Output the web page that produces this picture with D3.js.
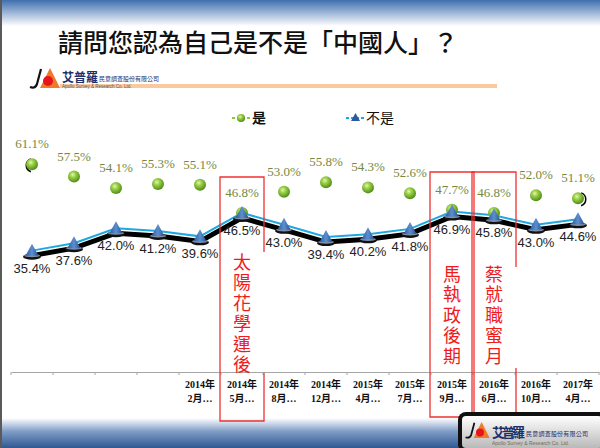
<!DOCTYPE html>
<html>
<head>
<meta charset="utf-8">
<script src="https://cdnjs.cloudflare.com/ajax/libs/d3/7.8.5/d3.min.js"></script>
<style>
  body { margin: 0; background: #fff; }
  svg { display: block; }
</style>
</head>
<body>
<svg id="chart" width="600" height="448"></svg>
<script>
// values
var title = '請問您認為自己是不是「中國人」？'
var tickYears  = ['', '', '', '', '2014年', '2014年', '2014年', '2014年', '2015年', '2015年', '2015年', '2016年', '2016年', '2017年']
var tickMonths = ['', '', '', '', '2月…', '5月…', '8月…', '12月…', '4月…', '7月…', '9月…', '6月…', '10月…', '4月…']
var yesValues = [61.1, 57.5, 54.1, 55.3, 55.1, 46.8, 53.0, 55.8, 54.3, 52.6, 47.7, 46.8, 52.0, 51.1]
var noValues  = [35.4, 37.6, 42.0, 41.2, 39.6, 46.5, 43.0, 39.4, 40.2, 41.8, 46.9, 45.8, 43.0, 44.6]
var seriesNames = ['是', '不是']
// event boxes: first/last category index covered, caption
var events = [
  { from: 5,  to: 5,  text: '太陽花學運後' },
  { from: 10, to: 10, text: '馬執政後期' },
  { from: 11, to: 11, text: '蔡就職蜜月' }
]

var svg = d3.select('#chart')
var defs = svg.append('defs')

var topGrad = defs.append('linearGradient').attr('id', 'topBand').attr('x1', 0).attr('y1', 0).attr('x2', 0).attr('y2', 1)
topGrad.append('stop').attr('offset', '0%').attr('stop-color', '#3f6fae')
topGrad.append('stop').attr('offset', '100%').attr('stop-color', '#ffffff')

var botGrad = defs.append('linearGradient').attr('id', 'botBand').attr('x1', 0).attr('y1', 0).attr('x2', 0).attr('y2', 1)
botGrad.append('stop').attr('offset', '0%').attr('stop-color', '#ffffff')
botGrad.append('stop').attr('offset', '45%').attr('stop-color', '#7f9cc6')
botGrad.append('stop').attr('offset', '100%').attr('stop-color', '#2f5892')

var ball = defs.append('radialGradient').attr('id', 'ball').attr('cx', '40%').attr('cy', '35%').attr('r', '65%')
ball.append('stop').attr('offset', '0%').attr('stop-color', '#e4f7b0')
ball.append('stop').attr('offset', '35%').attr('stop-color', '#9fd24a')
ball.append('stop').attr('offset', '100%').attr('stop-color', '#4f8c18')

var tri = defs.append('linearGradient').attr('id', 'tri').attr('x1', 0).attr('y1', 0).attr('x2', 1).attr('y2', 0)
tri.append('stop').attr('offset', '0%').attr('stop-color', '#2d5a9c')
tri.append('stop').attr('offset', '50%').attr('stop-color', '#5b8fd0')
tri.append('stop').attr('offset', '100%').attr('stop-color', '#2a4f8a')

var badge = defs.append('linearGradient').attr('id', 'badge').attr('x1', 0).attr('y1', 0).attr('x2', 0).attr('y2', 1)
badge.append('stop').attr('offset', '0%').attr('stop-color', '#ffffff')
badge.append('stop').attr('offset', '100%').attr('stop-color', '#b9b9b9')

// background bands
svg.append('rect').attr('x', 0).attr('y', 0).attr('width', 600).attr('height', 26).attr('fill', 'url(#topBand)')
svg.append('rect').attr('x', 0).attr('y', 418).attr('width', 600).attr('height', 30).attr('fill', 'url(#botBand)')
svg.append('rect').attr('x', 0).attr('y', 0).attr('width', 2).attr('height', 448).attr('fill', '#5a5a5a')

svg.append('text').attr('x', 258).attr('y', 52).attr('text-anchor', 'middle')
  .attr('font-family', '"Noto Sans CJK TC", sans-serif').attr('font-weight', 500)
  .attr('font-size', 25).attr('fill', '#111')
  .text(title)

// company logo mark
function drawLogo(g, s) {
  g.append('path').attr('d', 'M' + 13 * s + ',' + 1 * s + ' L' + 9 * s + ',' + 16 * s + ' Q' + 7 * s + ',' + 21 * s + ' ' + 2 * s + ',' + 19 * s)
    .attr('fill', 'none').attr('stroke', '#111').attr('stroke-width', 2.2 * s)
  g.append('path').attr('d', 'M' + 22 * s + ',0 L' + 12 * s + ',' + 20 * s + ' L' + 32 * s + ',' + 20 * s + ' Z').attr('fill', '#f07a2a')
  g.append('circle').attr('cx', 20 * s).attr('cy', 13 * s).attr('r', 5 * s).attr('fill', '#e8141c')
}
var logo = svg.append('g').attr('transform', 'translate(28,68)')
drawLogo(logo, 1)
svg.append('rect').attr('x', 60).attr('y', 84).attr('width', 437).attr('height', 4).attr('fill', '#fbc9a0')
svg.append('text').attr('x', 62).attr('y', 82).attr('font-family', '"Noto Sans CJK TC", sans-serif')
  .attr('font-weight', 'bold').attr('font-size', 12).attr('fill', '#1b2f6b').text('艾普羅')
svg.append('text').attr('x', 99).attr('y', 81).attr('font-family', '"Noto Sans CJK TC", sans-serif')
  .attr('font-size', 6).attr('fill', '#1b2f6b').text('民意調查股份有限公司')
svg.append('text').attr('x', 62).attr('y', 88).attr('font-family', 'Liberation Sans, sans-serif')
  .attr('font-size', 4.5).attr('fill', '#555').text('Apollo Survey & Research Co. Ltd.')

// scales
var idx = d3.range(yesValues.length)
var x = d3.scaleBand().domain(idx).range([11, 599])
var y = d3.scaleLinear().domain([0, 100]).range([372, 32])
var cx = function (i) { return x(i) + x.bandwidth() / 2 }

// category axis
var axis = svg.append('g').attr('transform', 'translate(0,' + y(0) + ')')
  .call(d3.axisBottom(x).tickSize(0).tickFormat(''))
axis.select('.domain').attr('stroke', '#a6a6a6')
axis.selectAll('.bound').data(idx.concat([idx.length])).enter().append('line')
  .attr('x1', function (i) { return i < idx.length ? x(i) : x.range()[1] })
  .attr('x2', function (i) { return i < idx.length ? x(i) : x.range()[1] })
  .attr('y1', 0).attr('y2', 3).attr('stroke', '#a6a6a6')
var tickText = svg.append('g').selectAll('text').data(idx).enter().append('text')
  .attr('x', cx).attr('text-anchor', 'middle')
  .attr('font-family', '"Liberation Serif", "Noto Sans CJK TC", serif')
  .attr('font-weight', 'bold').attr('font-size', 10).attr('fill', '#111')
tickText.append('tspan').attr('x', cx).attr('y', 388).text(function (i) { return tickYears[i] })
tickText.append('tspan').attr('x', cx).attr('y', 402).text(function (i) { return tickMonths[i] })

// legend
var legend = svg.append('g')
legend.append('line').attr('x1', 232).attr('x2', 251).attr('y1', 118).attr('y2', 118)
  .attr('stroke', '#8cc63f').attr('stroke-width', 2).attr('stroke-dasharray', '3,2')
legend.append('circle').attr('cx', 241).attr('cy', 118).attr('r', 4).attr('fill', 'url(#ball)')
legend.append('text').attr('x', 252).attr('y', 123).attr('font-family', '"Noto Sans CJK TC", sans-serif')
  .attr('font-weight', 'bold').attr('font-size', 14).attr('fill', '#111').text(seriesNames[0])
legend.append('line').attr('x1', 346).attr('x2', 365).attr('y1', 118).attr('y2', 118)
  .attr('stroke', '#1fa8e0').attr('stroke-width', 2).attr('stroke-dasharray', '3,2')
legend.append('path').attr('d', 'M355.5,113 L360,121 L351,121 Z').attr('fill', '#2d5a9c')
legend.append('text').attr('x', 366).attr('y', 123).attr('font-family', '"Noto Sans CJK TC", sans-serif')
  .attr('font-size', 14).attr('fill', '#111').text(seriesNames[1])

// "不是" line: thick black shadow plus thin blue line
var line = d3.line().x(function (d, i) { return cx(i) }).y(function (d) { return y(d) })
svg.append('path').datum(noValues).attr('d', line).attr('transform', 'translate(0,4)')
  .attr('fill', 'none').attr('stroke', '#000').attr('stroke-width', 5)
svg.append('path').datum(noValues).attr('d', line).attr('transform', 'translate(0,-1)')
  .attr('fill', 'none').attr('stroke', '#1fa8e0').attr('stroke-width', 2)

// "是" balls (drawn under the triangles)
svg.append('path').attr('d', d3.arc()({ innerRadius: 6, outerRadius: 7.5, startAngle: Math.PI * 1.1, endAngle: Math.PI * 1.9 }))
  .attr('transform', 'translate(' + (cx(0) + 1) + ',' + (y(yesValues[0]) + 1) + ')').attr('fill', '#000')
svg.append('path').attr('d', d3.arc()({ innerRadius: 6, outerRadius: 7.5, startAngle: Math.PI * 0.1, endAngle: Math.PI * 0.9 }))
  .attr('transform', 'translate(' + (cx(idx.length - 1) + 1) + ',' + (y(yesValues[idx.length - 1]) + 1) + ')').attr('fill', '#000')
svg.append('g').selectAll('circle').data(yesValues).enter().append('circle')
  .attr('cx', function (d, i) { return cx(i) }).attr('cy', function (d) { return y(d) })
  .attr('r', 6).attr('fill', 'url(#ball)')

// "不是" triangles with dark base
var tris = svg.append('g').selectAll('g').data(noValues).enter().append('g')
  .attr('transform', function (d, i) { return 'translate(' + cx(i) + ',' + y(d) + ')' })
tris.append('ellipse').attr('cx', 0).attr('cy', 5).attr('rx', 9).attr('ry', 3).attr('fill', '#111')
tris.append('ellipse').attr('cx', 0).attr('cy', 4).attr('rx', 8).attr('ry', 1.6).attr('fill', '#7d8ea8')
tris.append('path').attr('d', 'M0,-8 L6.5,4 L-6.5,4 Z').attr('fill', 'url(#tri)')

// value labels
svg.append('g').selectAll('text').data(yesValues).enter().append('text')
  .attr('x', function (d, i) { return cx(i) }).attr('y', function (d) { return y(d) - 16 })
  .attr('text-anchor', 'middle').attr('font-family', '"Liberation Serif", serif')
  .attr('font-size', 13).attr('fill', '#76883f')
  .text(function (d) { return d.toFixed(1) + '%' })
svg.append('g').selectAll('text').data(noValues).enter().append('text')
  .attr('x', function (d, i) { return cx(i) }).attr('y', function (d) { return y(d) + 21 })
  .attr('text-anchor', 'middle').attr('font-family', '"Liberation Sans", sans-serif')
  .attr('font-size', 13).attr('fill', '#222')
  .text(function (d) { return d.toFixed(1) + '%' })

// red event boxes, caption written top to bottom
var boxTop = [177, 172, 172], boxBot = [421, 417, 417], gapTop = [252, 417, 267], gapBot = [373, 417, 368]
events.forEach(function (e, k) {
  var x0 = x(e.from) - 1, x1 = x(e.to) + x.bandwidth() + 1
  var g = svg.append('g').attr('fill', 'none').attr('stroke', '#f03030').attr('stroke-width', 1.3)
  g.append('path').attr('d', 'M' + x1 + ',' + gapTop[k] + ' L' + x1 + ',' + boxTop[k] + ' L' + x0 + ',' + boxTop[k] +
    ' L' + x0 + ',' + boxBot[k] + ' L' + x1 + ',' + boxBot[k] + ' L' + x1 + ',' + gapBot[k])
  svg.append('text').attr('x', (x0 + x1) / 2).attr('y', k === 0 ? 253 : 265)
    .style('writing-mode', 'vertical-rl').attr('letter-spacing', 2.5)
    .attr('font-family', '"Noto Sans CJK TC", sans-serif')
    .attr('font-size', 18).attr('fill', '#f01c1c').text(e.text)
})

// company badge, bottom right
var b = svg.append('g').attr('transform', 'translate(458,412)')
b.append('rect').attr('x', 0).attr('y', 0).attr('width', 150).attr('height', 40).attr('rx', 8).attr('fill', '#111')
b.append('rect').attr('x', 4).attr('y', 4).attr('width', 140).attr('height', 32).attr('rx', 4).attr('fill', 'url(#badge)')
drawLogo(b.append('g').attr('transform', 'translate(6,10)'), 0.8)
b.append('text').attr('x', 34).attr('y', 25).attr('font-family', '"Noto Sans CJK TC", sans-serif')
  .attr('font-weight', 'bold').attr('font-size', 13).attr('textLength', 33).attr('fill', '#1b2f6b').text('艾普羅')
b.append('text').attr('x', 68).attr('y', 24).attr('font-family', '"Noto Sans CJK TC", sans-serif')
  .attr('font-size', 6).attr('textLength', 62).attr('fill', '#1b2f6b').text('民意調查股份有限公司')
b.append('text').attr('x', 34).attr('y', 33).attr('font-family', 'Liberation Sans, sans-serif')
  .attr('font-size', 5).attr('fill', '#7a6b50').text('Apollo Survey & Research Co. Ltd.')
</script>
</body>
</html>
